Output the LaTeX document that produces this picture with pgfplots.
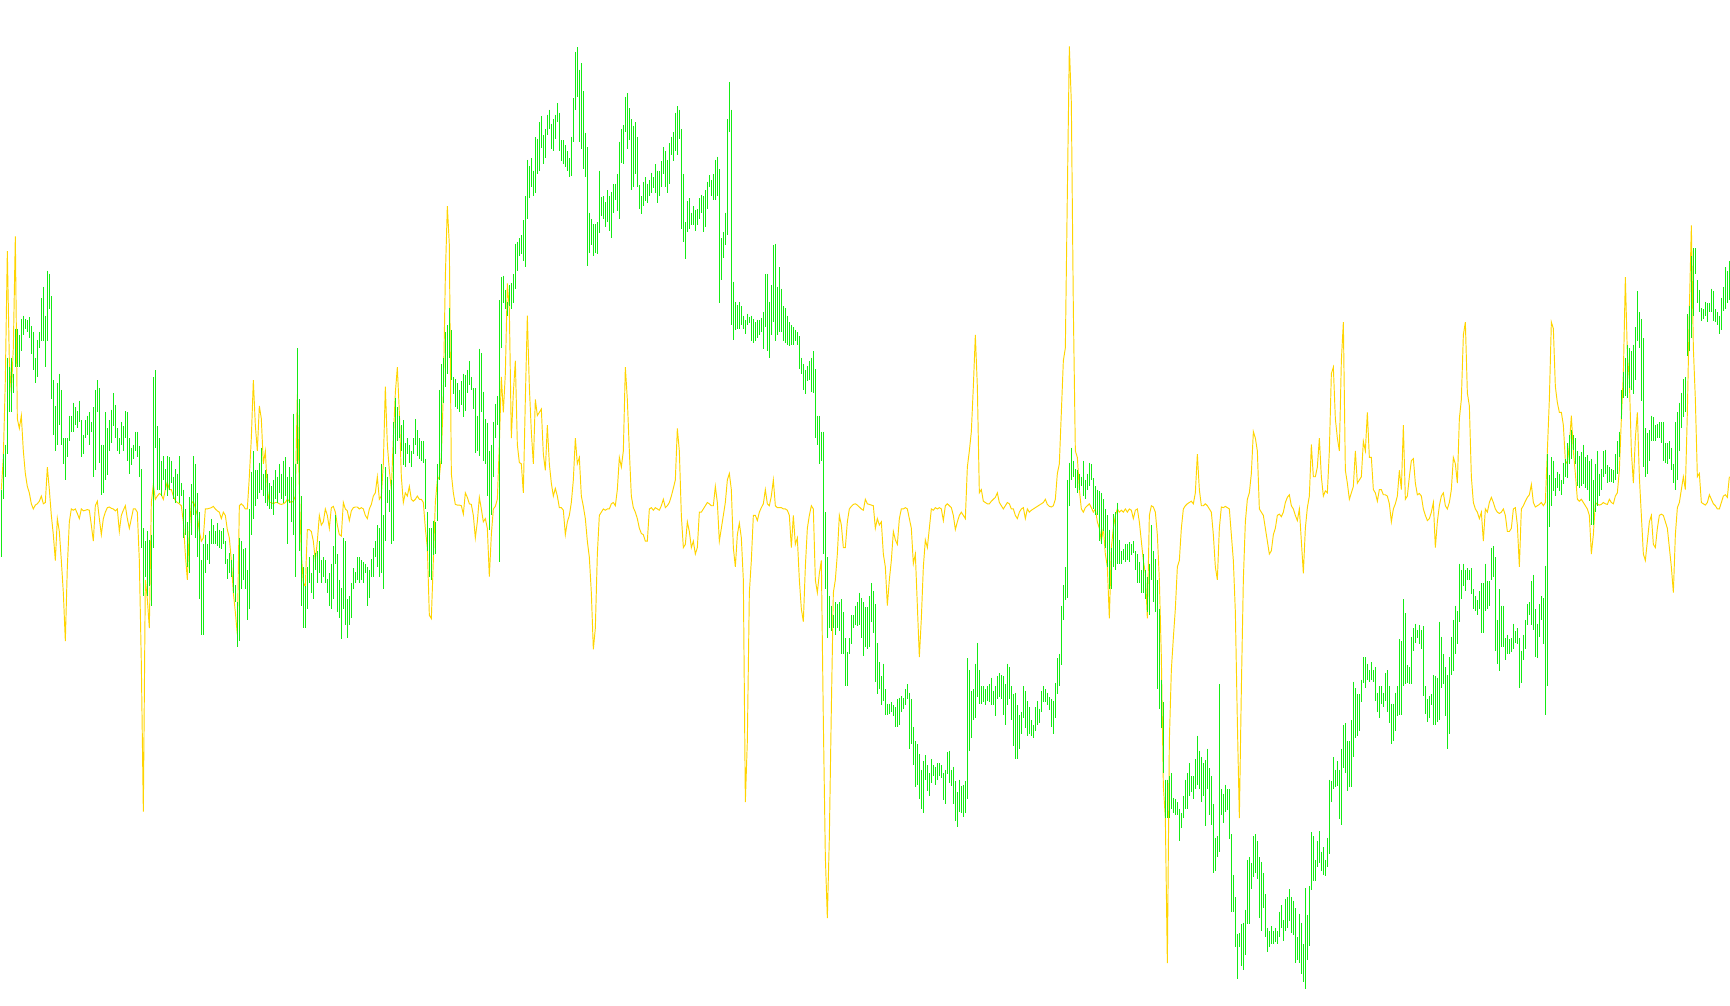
\documentclass[border=0pt]{standalone}
\usepackage{pgfplots}
\usepackage{pgfplotstable}
\pgfplotsset{compat=1.18}
\definecolor{mtgreen}{RGB}{20,235,20}
\definecolor{mtgold}{RGB}{255,212,0}
\pgfplotstableread{
t b y
760 865 760
705 775 710
690 740 590
555 705 390
570 640 560
555 640 610
580 610 540
510 570 367
510 570 650
520 570 665
495 545 645
490 520 700
495 510 735
497 515 755
492 525 765
506 550 782
515 575 790
555 595 784
528 585 782
515 540 778
463 530 770
445 530 782
490 570 780
420 530 725
425 480 760
460 620 800
590 675 830
630 700 870
595 690 805
580 660 825
605 690 870
680 720 920
680 745 995
680 710 880
645 685 810
645 670 790
625 670 792
632 660 790
638 665 797
622 655 805
652 710 790
675 705 793
652 680 792
645 675 791
640 690 792
655 670 815
632 740 840
605 730 785
590 640 778
602 718 805
690 768 830
690 765 805
640 745 795
665 738 788
652 700 787
636 688 789
610 662 790
628 680 793
665 700 790
680 705 825
655 690 800
662 700 792
638 680 785
640 715 805
680 735 820
695 722 805
690 712 790
670 700 790
670 710 795
692 740 870
728 850 1030
820 925 1260
840 895 900
825 925 930
838 910 975
830 940 780
585 850 752
575 695 775
662 760 770
680 760 766
715 770 768
708 745 775
728 760 760
708 770 748
710 760 760
715 750 760
740 775 770
728 780 777
735 770 780
708 780 782
750 770 785
760 835 810
790 830 860
810 880 900
772 890 820
752 830 782
708 800 778
720 835 788
765 865 800
795 930 825
870 985 840
845 985 835
830 890 790
845 870 790
825 875 789
805 845 788
815 845 786
825 845 790
812 848 793
822 850 795
825 852 805
820 845 795
840 875 800
868 898 822
858 890 835
870 895 870
860 920 920
908 935 950
935 1005 985
835 995 785
840 915 782
852 900 785
850 915 790
885 962 790
790 945 740
732 830 680
700 805 590
730 785 660
730 775 700
718 765 630
695 760 650
735 770 720
730 780 700
735 785 760
750 790 780
755 790 780
745 800 782
730 775 780
740 780 780
720 765 782
735 775 783
715 780 782
710 770 780
740 845 775
725 780 778
740 810 780
642 830 778
720 895 770
540 720 612
620 855 760
770 940 860
880 975 905
910 975 910
880 945 822
865 905 822
890 920 825
862 930 840
858 885 870
855 905 840
840 890 800
870 905 815
865 895 810
870 905 790
898 920 800
890 940 820
875 945 788
848 930 786
800 875 795
860 950 815
900 960 830
912 992 832
835 945 780
840 970 790
930 990 793
925 970 808
905 960 793
882 915 788
888 905 787
865 900 787
865 905 790
870 900 788
872 905 790
875 890 800
880 940 805
885 928 790
868 895 783
850 895 770
840 865 765
815 880 740
820 895 775
720 890 770
800 915 720
725 840 600
740 780 690
760 795 730
745 845 760
655 840 680
618 705 610
632 685 570
645 680 640
660 700 740
652 722 780
688 725 765
680 705 770
690 718 755
700 725 775
680 705 778
650 690 775
668 708 770
680 712 775
685 715 775
685 718 780
712 790 820
795 855 850
820 895 955
820 900 960
808 862 870
810 860 780
720 808 745
605 745 740
565 720 710
555 625 610
515 600 430
505 580 320
478 555 380
512 590 735
585 612 765
588 632 783
595 635 784
605 640 784
592 628 785
580 648 798
582 638 765
574 610 772
560 598 782
585 605 783
602 635 800
602 703 835
645 700 810
541 708 772
548 640 790
608 715 810
650 720 805
656 770 820
700 822 895
690 800 830
655 740 790
627 680 786
615 660 775
466 872 690
430 540 585
428 470 640
450 480 580
468 490 440
442 475 480
440 480 680
425 470 610
378 448 560
375 420 690
370 398 718
365 395 720
342 405 765
305 414 620
248 340 490
258 308 600
245 290 670
265 305 720
213 300 620
215 270 645
190 265 640
180 230 635
210 255 705
200 245 730
178 210 660
170 200 720
192 232 750
185 235 770
178 215 758
160 190 770
175 235 788
218 250 788
218 255 792
225 260 830
235 265 810
245 275 800
212 273 780
152 220 745
80 170 680
73 150 720
108 220 710
98 232 770
142 262 786
206 275 805
228 413 840
330 392 865
340 380 920
348 397 1008
348 392 975
345 395 860
265 362 800
306 336 795
305 340 790
314 352 792
295 345 790
305 358 790
298 370 782
286 330 780
285 310 785
270 328 760
220 340 710
200 253 725
194 255 700
150 205 570
145 232 620
168 218 700
185 295 770
195 290 788
190 270 795
212 290 805
287 325 820
305 332 828
282 320 830
275 312 840
285 315 840
280 305 790
268 300 788
275 292 792
255 300 788
265 315 790
265 305 792
250 290 785
228 270 775
235 290 788
248 300 785
222 285 780
212 240 770
205 250 758
175 235 745
165 240 665
170 215 700
200 355 800
270 375 850
345 402 845
312 360 810
308 355 825
330 350 850
320 350 840
326 358 860
325 350 850
308 340 795
302 330 795
305 360 790
295 352 785
282 325 780
272 290 782
280 305 785
270 310 785
248 310 755
243 305 780
262 470 840
370 435 820
360 400 800
330 380 780
185 365 745
127 205 735
170 505 760
437 528 850
468 512 880
474 510 830
468 510 812
475 505 835
490 510 900
497 518 1245
487 505 1150
492 502 920
490 530 870
495 532 800
500 530 800
496 525 808
497 520 795
493 515 788
484 542 782
425 508 760
425 545 782
468 555 785
442 520 770
380 500 745
378 530 785
445 520 788
415 515 788
448 515 788
475 530 790
478 533 790
490 535 792
500 537 800
505 535 850
508 535 800
512 530 845
515 535 835
522 572 900
555 580 945
565 605 965
575 612 880
568 592 820
560 590 800
555 608 785
545 610 790
573 680 900
645 690 920
645 720 890
670 715 870
670 860 1120
795 915 1330
865 990 1425
925 975 1300
940 980 1100
955 975 920
935 985 900
938 975 860
935 980 800
930 1015 815
950 1015 850
990 1065 850
1012 1065 810
990 1015 790
955 1000 786
955 975 783
940 970 782
935 972 784
920 970 787
928 990 790
935 1018 792
942 1005 775
942 1008 782
925 1005 783
905 965 784
918 982 785
938 1058 820
998 1078 805
1028 1070 815
1050 1095 810
1030 1088 860
1070 1110 880
1092 1110 940
1092 1108 900
1090 1105 870
1095 1112 825
1098 1128 838
1085 1128 845
1083 1125 805
1080 1105 790
1083 1100 790
1070 1095 788
1062 1085 790
1075 1162 805
1085 1155 820
1128 1188 875
1150 1222 860
1155 1218 940
1170 1240 1020
1195 1255 960
1182 1262 880
1172 1210 838
1188 1228 850
1200 1235 820
1178 1215 790
1188 1205 792
1190 1218 788
1185 1210 790
1185 1205 788
1188 1208 790
1200 1242 808
1195 1248 785
1168 1202 782
1165 1215 785
1195 1220 788
1190 1248 800
1212 1275 822
1230 1283 810
1210 1260 800
1220 1262 795
1218 1268 800
1212 1262 805
1022 1240 725
1040 1165 700
1072 1145 670
1070 1118 600
1030 1115 520
998 1082 600
1040 1092 765
1065 1092 760
1065 1090 778
1070 1095 780
1065 1088 782
1062 1090 782
1052 1095 778
1072 1095 775
1065 1112 772
1050 1085 765
1045 1082 780
1048 1085 785
1050 1110 790
1062 1125 785
1030 1095 780
1035 1085 782
1065 1118 790
1078 1158 790
1075 1178 800
1095 1178 805
1110 1162 795
1105 1140 790
1065 1115 788
1072 1130 805
1088 1142 790
1098 1140 795
1118 1142 792
1125 1145 790
1098 1135 788
1088 1125 786
1100 1122 784
1072 1105 782
1065 1090 780
1070 1090 775
1075 1095 783
1082 1102 786
1085 1128 787
1088 1140 785
1060 1115 775
1022 1078 735
1015 1065 720
940 1032 640
908 962 560
880 932 540
745 928 300
718 785 72
695 745 160
715 740 480
728 758 700
730 765 710
735 760 760
740 755 790
715 770 795
745 775 788
735 760 785
718 755 782
720 745 788
742 790 795
755 800 790
760 800 810
762 840 820
765 845 840
775 825 820
790 850 860
800 880 880
822 915 960
850 915 850
798 880 820
795 885 800
780 875 790
838 875 795
855 875 792
852 870 795
845 872 790
845 870 795
842 872 790
845 862 792
840 858 805
855 885 792
860 905 790
872 905 810
885 920 840
860 920 870
885 930 890
895 950 960
875 955 800
815 900 785
855 935 787
868 950 795
900 1070 830
945 1100 900
1055 1130 1020
1090 1200 1220
1210 1270 1270
1210 1270 1495
1205 1270 1150
1200 1255 1040
1238 1262 990
1240 1265 945
1245 1265 880
1255 1305 870
1262 1285 820
1235 1270 790
1210 1255 785
1200 1255 782
1185 1235 780
1205 1230 778
1205 1240 782
1178 1225 765
1142 1218 705
1165 1225 760
1175 1245 785
1185 1235 785
1180 1282 782
1162 1225 785
1192 1265 790
1205 1280 795
1248 1355 830
1300 1352 880
1298 1330 900
1062 1322 820
1225 1265 787
1232 1278 788
1218 1260 786
1225 1258 788
1225 1302 790
1295 1415 830
1358 1415 870
1392 1470 950
1450 1520 1120
1448 1470 1270
1435 1500 1070
1432 1505 900
1412 1482 810
1335 1435 775
1330 1435 765
1340 1380 735
1298 1362 670
1295 1355 680
1305 1365 700
1330 1425 790
1338 1445 795
1355 1410 800
1388 1455 820
1440 1478 840
1445 1470 860
1438 1465 855
1445 1465 830
1440 1462 820
1445 1465 800
1415 1455 798
1405 1440 802
1428 1460 795
1395 1445 780
1392 1440 772
1380 1430 768
1392 1448 785
1398 1452 790
1410 1495 800
1455 1490 808
1418 1495 790
1432 1512 840
1465 1525 890
1378 1535 820
1420 1490 788
1375 1468 770
1292 1382 690
1298 1368 740
1335 1368 740
1305 1345 725
1290 1340 680
1322 1352 740
1315 1358 770
1335 1360 762
1300 1345 765
1210 1325 700
1212 1245 580
1175 1225 570
1195 1222 650
1182 1220 680
1195 1272 700
1162 1280 560
1125 1192 500
1122 1200 730
1150 1228 750
1150 1222 775
1118 1222 765
1058 1175 755
1068 1145 700
1078 1142 750
1078 1135 745
1055 1090 740
1020 1060 685
1020 1068 700
1030 1055 640
1040 1058 710
1028 1055 710
1040 1058 760
1035 1088 765
1075 1105 778
1065 1115 760
1065 1092 760
1075 1098 768
1045 1088 768
1040 1105 770
1065 1122 782
1092 1155 810
1092 1150 790
1075 1135 782
1065 1112 770
992 1110 730
995 1110 760
930 1065 660
952 1062 775
1032 1060 770
1035 1062 740
988 1062 715
975 1010 712
968 998 750
978 990 768
970 1000 766
978 1008 770
972 1080 790
1065 1108 800
1085 1120 808
1080 1115 805
1078 1095 795
1048 1125 780
1050 1125 850
1052 1120 810
965 1118 785
988 1068 770
1015 1062 765
1035 1112 785
1048 1162 790
1020 1140 780
988 1048 760
962 1042 710
940 1015 720
948 1000 750
875 965 650
885 930 620
875 910 520
885 918 500
882 900 610
885 900 630
882 922 740
915 945 780
925 948 790
932 955 795
918 945 805
905 982 795
905 982 840
875 948 790
902 945 795
902 940 780
850 900 772
848 895 780
865 1010 790
962 1030 795
915 1042 797
940 1005 795
940 1005 790
990 1025 800
985 1015 825
992 1015 825
990 1012 820
968 1008 790
980 998 788
975 1000 815
990 1068 880
1010 1060 790
985 1025 785
962 1008 778
938 970 772
935 955 768
902 970 752
892 978 780
945 1020 787
968 1022 785
938 988 783
925 962 780
928 1000 785
878 1110 780
705 1065 700
738 818 620
710 785 500
715 762 510
742 770 600
732 758 625
735 762 640
745 768 640
718 752 660
712 740 715
688 742 720
675 720 690
668 712 645
675 698 700
680 720 735
700 755 775
708 758 778
702 755 775
690 752 780
710 758 785
706 760 790
715 778 800
712 815 860
745 815 830
720 795 780
700 785 783
735 770 784
728 760 783
700 740 780
698 735 782
722 750 783
725 748 775
728 748 780
730 750 782
705 745 770
685 735 765
670 710 730
605 650 650
578 618 580
555 615 430
535 618 550
540 602 590
545 605 700
535 612 750
508 590 680
452 530 640
485 540 740
495 622 800
525 725 860
665 740 870
672 735 840
668 715 810
645 685 800
648 685 845
660 685 850
658 680 820
655 680 800
655 688 798
655 715 800
688 718 810
688 720 820
685 712 850
695 730 880
720 750 920
655 760 830
640 745 788
625 700 780
610 665 760
588 648 740
585 640 760
488 552 640
475 545 480
398 525 350
385 490 540
385 425 620
435 470 740
450 485 735
478 498 780
480 495 782
468 490 784
470 500 780
470 485 768
448 485 775
452 498 782
480 500 785
485 505 790
490 518 790
462 512 780
445 482 770
415 480 768
420 470 772
405 465 740
}\mtdata
\begin{document}
\begin{tikzpicture}
\begin{axis}[
  width=17.3cm, height=10.05cm, scale only axis,
  xmin=0, xmax=1730, ymin=0, ymax=1560, y dir=reverse,
  axis line style={draw=none}, xtick=\empty, ytick=\empty,
  clip=true,
]
\addplot[mtgold, line width=0.27pt, line join=miter] table[x expr=\coordindex*2+1.33, y=y] {\mtdata};
\addplot[draw=none, mark=none,
  error bars/.cd, y dir=plus, y explicit, error mark=none,
  error bar style={draw=mtgreen, line width=0.36pt, solid}]
  table[x expr=\coordindex*2+1.33, y=t, y error expr=\thisrow{b}-\thisrow{t}] {\mtdata};
\end{axis}
\end{tikzpicture}
\end{document}
